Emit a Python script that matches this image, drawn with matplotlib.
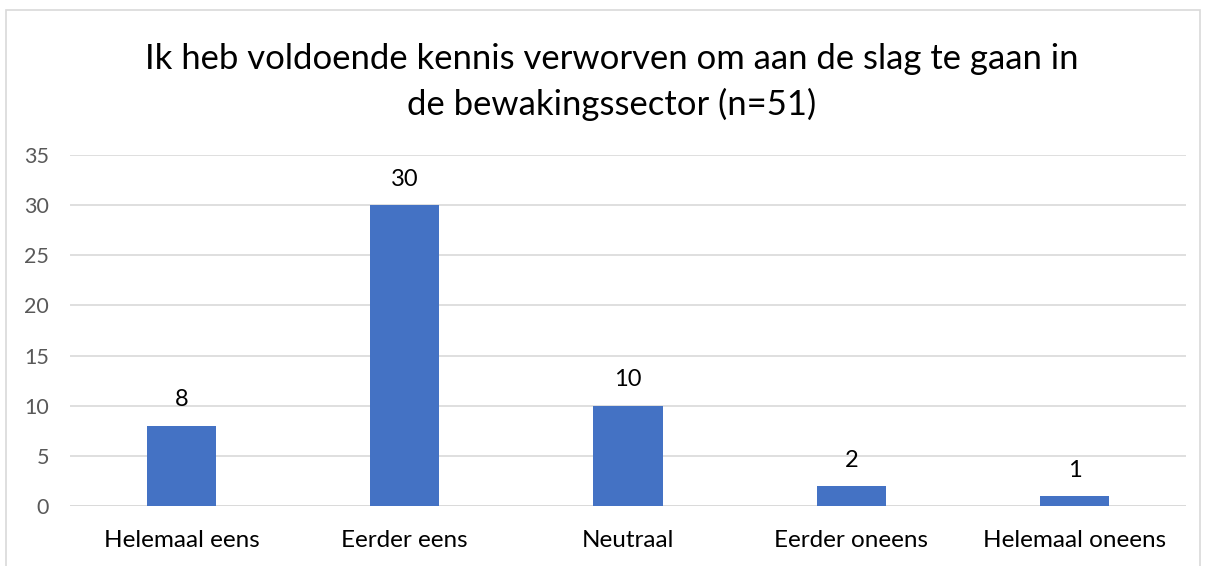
import matplotlib
matplotlib.use("Agg")
import matplotlib.pyplot as plt
from matplotlib.patches import Rectangle

categories = ["Helemaal eens", "Eerder eens", "Neutraal", "Eerder oneens", "Helemaal oneens"]
values = [8, 30, 10, 2, 1]
yticks = [0, 5, 10, 15, 20, 25, 30, 35]
title = "Ik heb voldoende kennis verworven om aan de slag te gaan in\nde bewakingssector (n=51)"

plt.rcParams['font.family'] = ['Lato', 'DejaVu Sans']

W, H = 1205, 566
fig = plt.figure(figsize=(W / 100, H / 100), dpi=100)
fig.patch.set_facecolor("white")

# chart frame
fig.patches.append(Rectangle((6 / W, -0.05), (1200 - 6) / W, (H - 10) / H + 0.05,
                             transform=fig.transFigure, fill=False,
                             edgecolor="#D9D9D9", linewidth=1.2))

ax = fig.add_axes([70 / W, 1 - 506 / H, (1186 - 70) / W, (506 - 155) / H])
x = list(range(len(categories)))
bars = ax.bar(x, values, width=0.31, color="#4472C4", zorder=3)
ax.set_xlim(-0.5, len(categories) - 0.5)
ax.set_ylim(0, 35)
ax.set_yticks(yticks)
ax.set_xticks(x)
ax.set_xticklabels(categories)
ax.tick_params(axis="both", length=0, colors="#595959")
ax.tick_params(axis="x", pad=17, labelsize=17.5, labelcolor="#000000")
ax.tick_params(axis="y", pad=15, labelsize=15.5)
ax.yaxis.grid(True, color="#D9D9D9", linewidth=1.2, zorder=0)
for s in ax.spines.values():
    s.set_visible(False)
ax.axhline(0, color="#D9D9D9", linewidth=1.2, zorder=1)

for xi, v in zip(x, values):
    ax.annotate(str(v), (xi, v), xytext=(0, 11), textcoords="offset points",
                ha="center", va="bottom", fontsize=17, color="#000000")

fig.text(0.5 * (148 + 1075) / W, 1 - 82 / H, title, ha="center", va="center",
         fontsize=24.9, color="#000000", linespacing=1.45)

fig.savefig("out.png", dpi=100)
